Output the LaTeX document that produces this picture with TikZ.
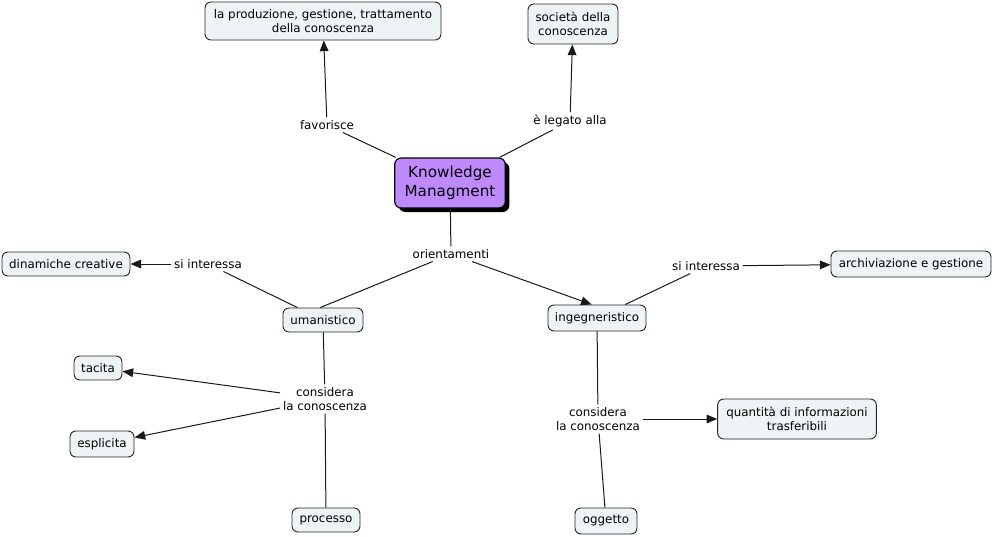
\documentclass[tikz,border=0pt]{standalone}
\usepackage{fontspec}
\setmainfont{DejaVu Sans}
\usetikzlibrary{arrows.meta,shadows}
\definecolor{boxfill}{HTML}{EEF3F5}
\definecolor{kmfill}{HTML}{C08AFF}
\begin{document}
\begin{tikzpicture}[x=0.75pt,y=-0.75pt,
  concept/.style={draw=black!85,fill=boxfill,rounded corners=4.5pt,line width=0.7pt,
    font=\fontsize{8.9}{10.6}\selectfont,align=center,inner sep=0pt,minimum height=18pt},
  linker/.style={font=\fontsize{8.9}{10.6}\selectfont,align=center,inner sep=2pt},
  conn/.style={line width=0.75pt,black!90},
  arr/.style={conn,-{Triangle[length=8pt,width=6.5pt]}}]
\useasboundingbox (0,0) rectangle (993,536);
% concepts
\node[concept,minimum width=177pt,minimum height=28.5pt] (prod) at (323,21) {la produzione, gestione, trattamento\\della conoscenza};
\node[concept,minimum width=67.5pt,minimum height=30pt] (soc) at (573,24) {società della\\conoscenza};
\node[draw=black,fill=kmfill,rounded corners=5pt,line width=0.9pt,
  drop shadow={shadow xshift=3pt,shadow yshift=-3pt,fill=black,opacity=1},
  font=\fontsize{11.4}{14}\selectfont,align=center,inner sep=0pt,
  minimum width=83pt,minimum height=37.5pt] (km) at (450,183) {Knowledge\\Managment};
\node[concept,minimum width=96pt] (din) at (66,264) {dinamiche creative};
\node[concept,minimum width=60pt] (uma) at (323,320) {umanistico};
\node[concept,minimum width=73.5pt,minimum height=19.5pt] (ing) at (597,318) {ingegneristico};
\node[concept,minimum width=120pt,minimum height=19.5pt] (arc) at (911,264) {archiviazione e gestione};
\node[concept,minimum width=36pt] (tac) at (98,368) {tacita};
\node[concept,minimum width=48pt,minimum height=19.5pt] (esp) at (102,444) {esplicita};
\node[concept,minimum width=51pt] (pro) at (326,520) {processo};
\node[concept,minimum width=119pt,minimum height=30pt] (qua) at (797,419) {quantità di informazioni\\trasferibili};
\node[concept,minimum width=46.5pt,minimum height=19.5pt] (ogg) at (606,521) {oggetto};
% linking phrases
\node[linker] (fav) at (327,125) {favorisce};
\node[linker] (leg) at (570,121) {è legato alla};
\node[linker] (ori) at (451,254) {orientamenti};
\node[linker] (si1) at (208,264) {si interessa};
\node[linker] (si2) at (706,266) {si interessa};
\node[linker] (con1) at (325,399) {considera\\la conoscenza};
\node[linker] (con2) at (598,419) {considera\\la conoscenza};
% connectors
\draw[conn] (km) -- (fav);
\draw[arr] (fav) -- (prod);
\draw[conn] (km) -- (leg);
\draw[arr] (leg) -- (soc);
\draw[conn] (km) -- (ori);
\draw[conn] (ori) -- ([xshift=-2pt]uma.north);
\draw[arr] (ori) -- ([xshift=-4pt]ing.north);
\draw[conn] (uma) -- (si1);
\draw[arr] (si1) -- (din);
\draw[conn] (ing) -- (si2);
\draw[arr] (si2) -- (arc);
\draw[conn] (uma) -- (con1);
\draw[arr] (con1) -- (tac);
\draw[arr] (con1) -- (esp);
\draw[conn] (con1) -- (pro);
\draw[conn] (ing) -- (con2);
\draw[arr] (con2) -- (qua);
\draw[conn] (con2) -- (ogg);
\end{tikzpicture}
\end{document}
